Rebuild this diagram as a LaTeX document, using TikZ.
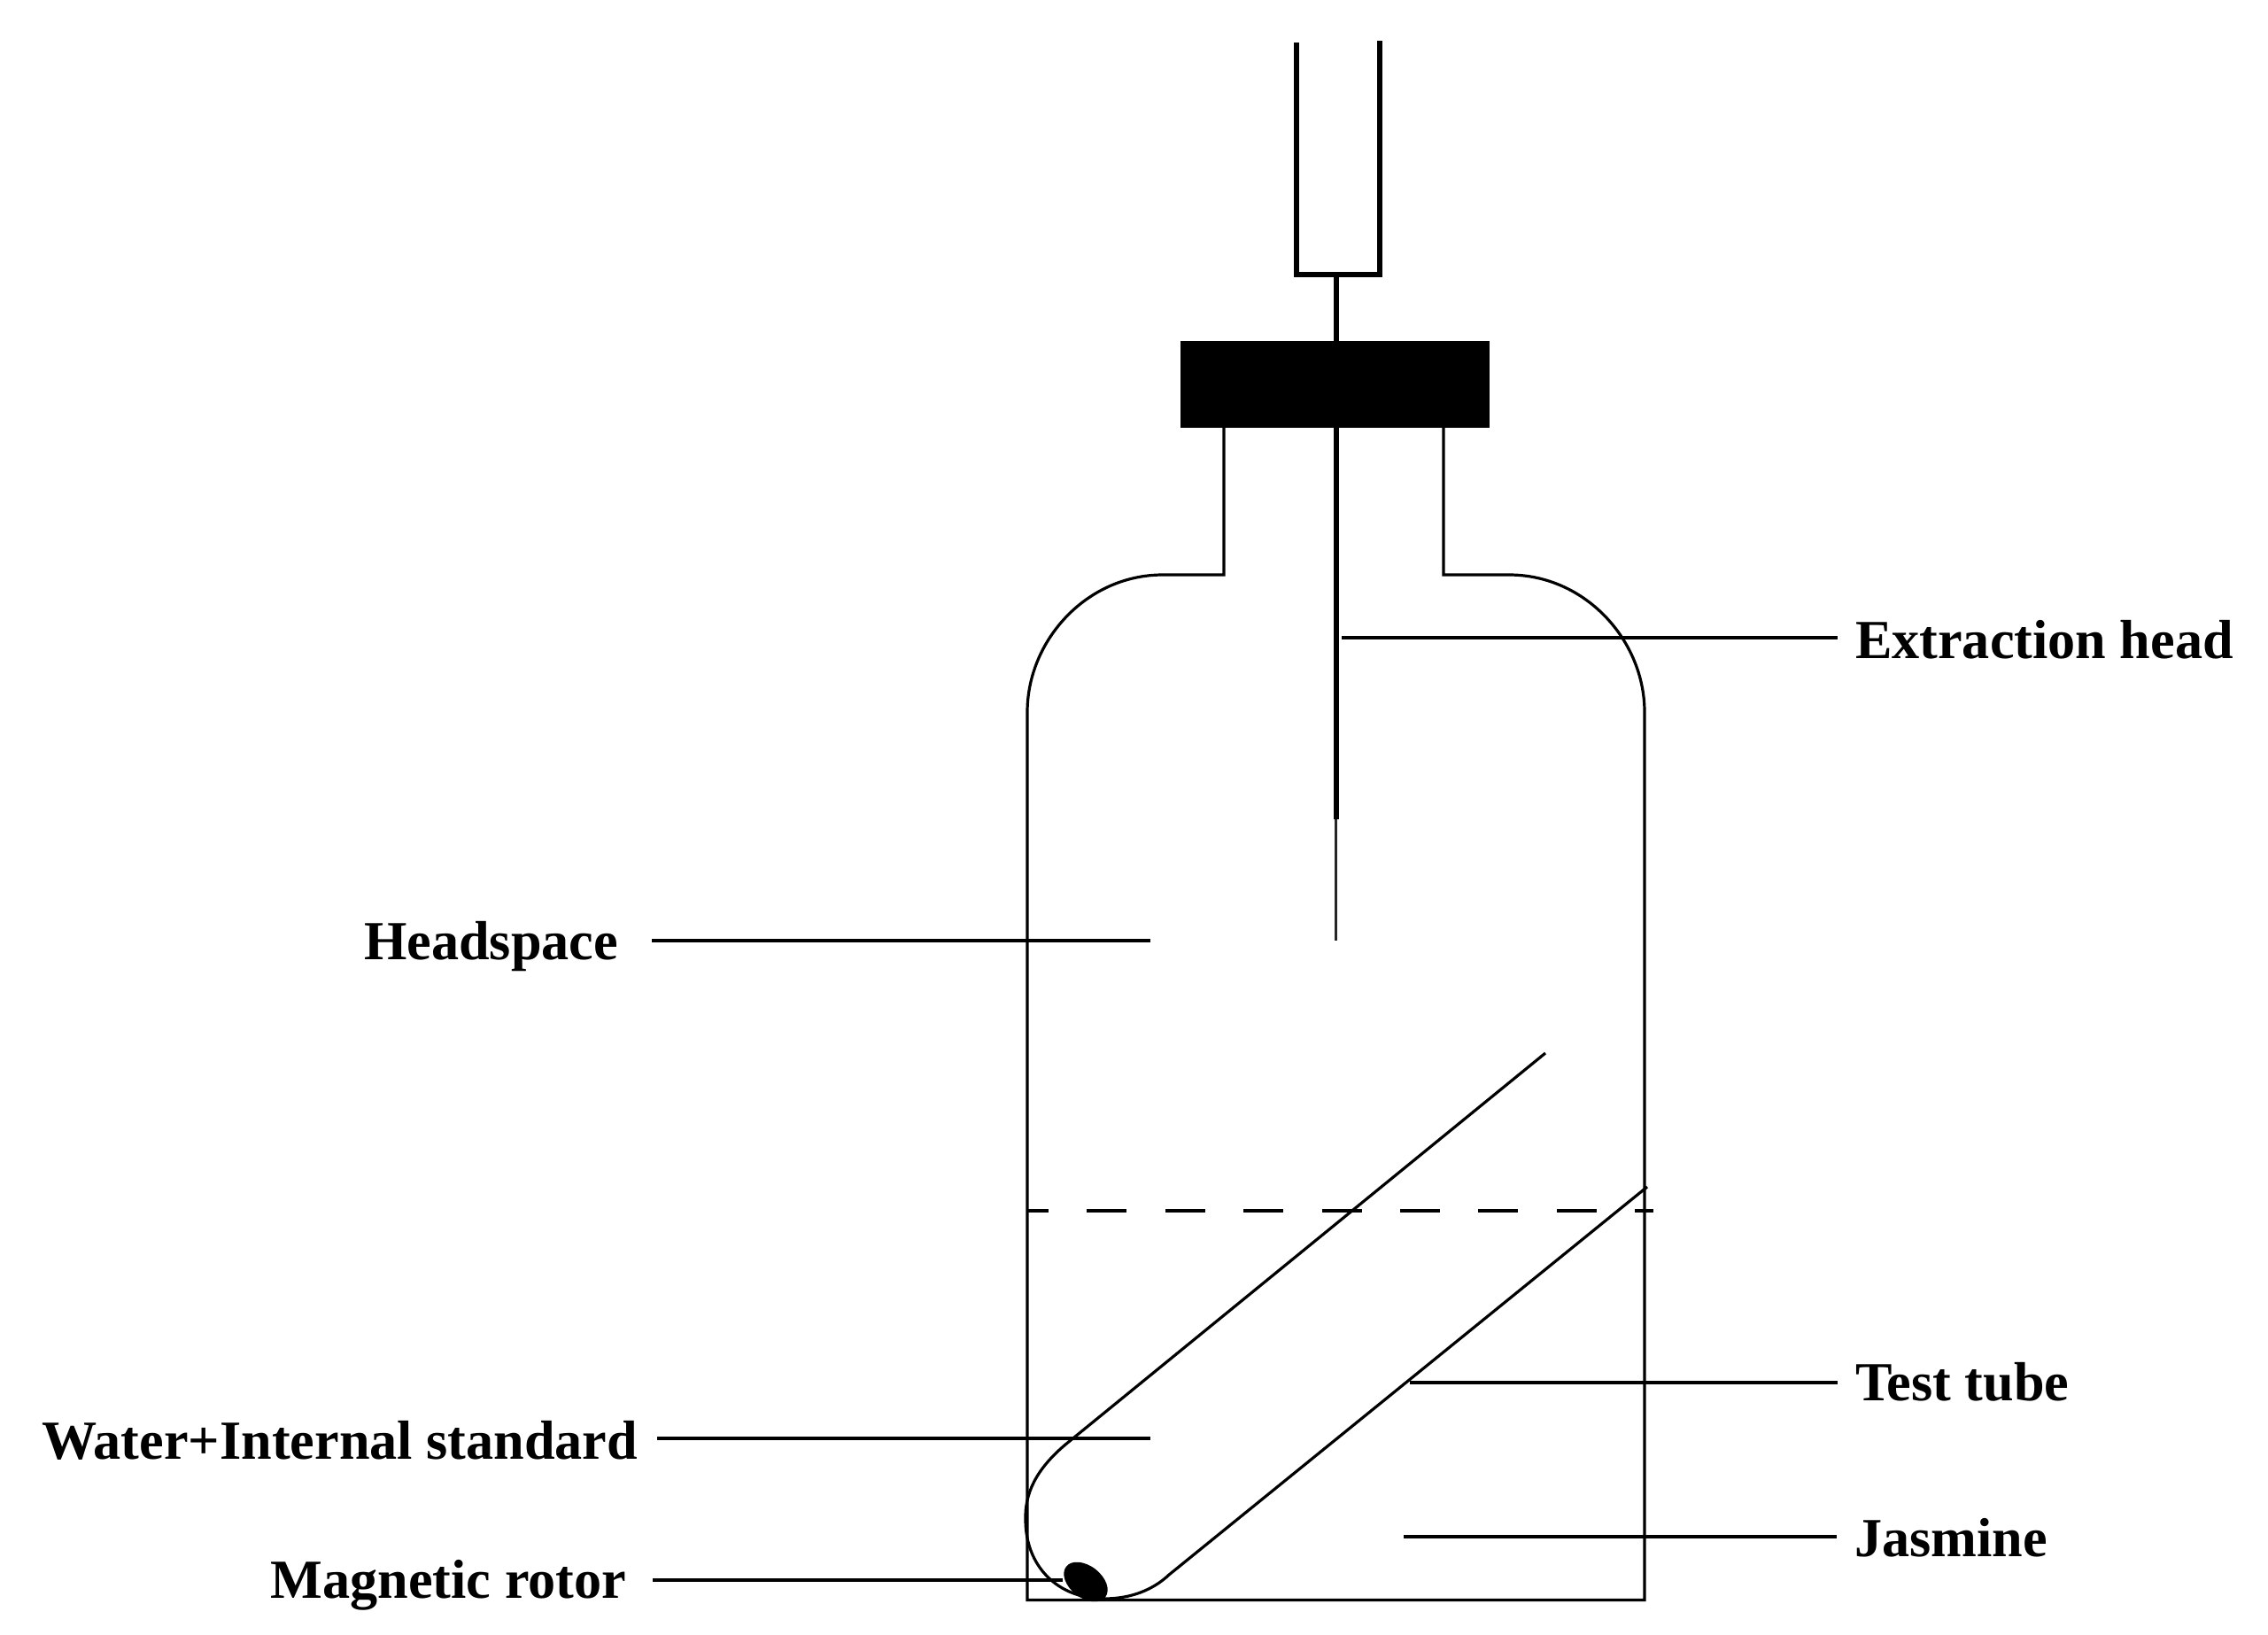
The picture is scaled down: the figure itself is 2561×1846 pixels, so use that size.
\documentclass[tikz,border=0pt]{standalone}
\usepackage{fontspec}
\usetikzlibrary{shapes.geometric}
\setmainfont{Liberation Serif}
\tikzset{
  lbl/.style={inner sep=0pt,outer sep=0pt,font=\fontsize{62.2}{64}\selectfont\bfseries,text=black},
  leader/.style={draw=black,line width=3.4pt},
  glass/.style={draw=black,line width=3.2pt,line join=miter},
  holder/.style={draw=black,line width=5.5pt,line join=miter},
  needle/.style={draw=black,line width=6pt},
  fibre/.style={draw=black!85,line width=2.4pt},
  level/.style={draw=black,line width=4.2pt,dash pattern=on 45pt off 43.4pt,dash phase=21pt}
}
\begin{document}
\begin{tikzpicture}[x=1pt,y=-1pt]
\useasboundingbox[fill=white] (0,0) rectangle (2561,1846);
% syringe
\coordinate (sl) at (1464,48); \coordinate (sbl) at (1464,310);
\coordinate (sbr) at (1558,310); \coordinate (sr) at (1558,46);
\draw[holder] (sl) -- (sbl) -- (sbr) -- (sr);
% stopper
\node[fill=black,minimum width=349pt,minimum height=98pt,inner sep=0pt,outer sep=0pt] (cap) at (1507.5,434) {};
\coordinate (ntop) at (1508.5,310);
\coordinate (nmid) at (1508.5,925);
\coordinate (nend) at (1508.5,1062);
\draw[needle] (ntop) -- (nmid);
\draw[fibre] (nmid) -- (nend);
% bottle
\coordinate (nl) at (1382,483); \coordinate (nr) at (1630,483);
\draw[glass] (nl) -- (1382,649) -- (1313,649)
  .. controls (1227,649) and (1160,723) .. (1160,804)
  -- (1160,1806.5) -- (1857,1806.5) -- (1857,804)
  .. controls (1857,723) and (1790,649) .. (1704,649)
  -- (1630,649) -- (nr);
% liquid level
\coordinate (lva) at (1160,1367); \coordinate (lvb) at (1867,1367);
\draw[level] (lva) -- (lvb);
% tube
\coordinate (ta) at (1745,1189); \coordinate (tb) at (1860,1340);
\draw[glass] (ta) -- (1203,1631)
  .. controls (1170,1659) and (1157,1686) .. (1158,1716)
  .. controls (1158,1768) and (1194,1805) .. (1247,1805)
  .. controls (1277,1805) and (1302,1795) .. (1320,1778)
  -- (tb);
% rotor
\node[ellipse,fill=black,minimum width=56pt,minimum height=36pt,inner sep=0pt,rotate=-38] (rotor) at (1226,1786) {};
% labels
\node[lbl,anchor=base west] (ext) at (2095,743) {Extraction head};
\node[lbl,anchor=base east] (hs) at (698,1083) {Headspace};
\node[lbl,anchor=base east] (wat) at (720,1647) {Water+Internal standard};
\node[lbl,anchor=base east] (mag) at (707,1804) {Magnetic rotor};
\node[lbl,anchor=base west] (tt) at (2095,1581) {Test tube};
\node[lbl,anchor=base west] (jas) at (2094,1757) {Jasmine};
% leaders
\coordinate (e1) at (1515,720);
\coordinate (h1) at (1299,1062);
\coordinate (w1) at (1299,1624);
\coordinate (m1) at (1200,1784);
\coordinate (t1) at (1592,1561);
\coordinate (j1) at (1585,1735);
\draw[leader,shorten >=20pt] (e1) -- (e1 -| ext.west);
\draw[leader,shorten >=38pt] (h1) -- (h1 -| hs.east);
\draw[leader,line width=4.4pt,shorten >=22pt] (w1) -- (w1 -| wat.east);
\draw[leader,shorten >=30pt] (m1) -- (m1 -| mag.east);
\draw[leader,shorten >=20pt] (t1) -- (t1 -| tt.west);
\draw[leader,shorten >=20pt] (j1) -- (j1 -| jas.west);
\end{tikzpicture}
\end{document}
